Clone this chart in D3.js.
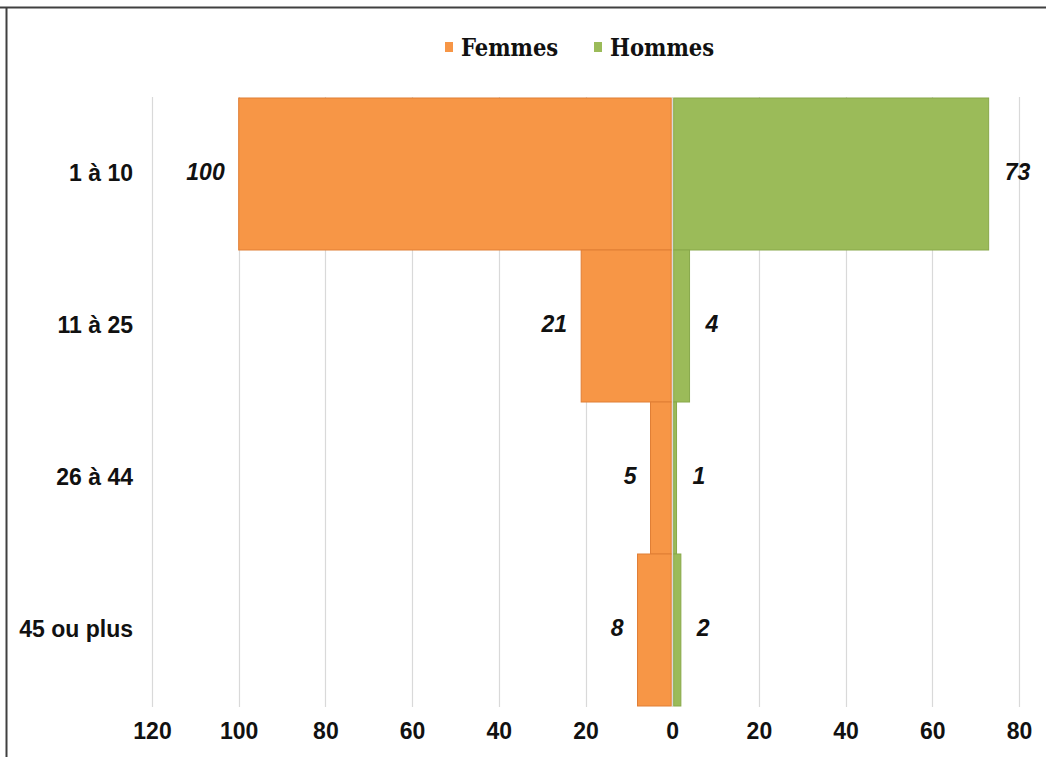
<!DOCTYPE html>
<html>
<head>
<meta charset="utf-8">
<script src="https://cdn.jsdelivr.net/npm/d3@7"></script>
<style>
  html, body { margin: 0; padding: 0; background: #fff; }
  svg { display: block; }
</style>
</head>
<body>
<svg id="chart" width="1046" height="757"></svg>
<script>
const categories = ["1 à 10", "11 à 25", "26 à 44", "45 ou plus"];
const femmes = [100, 21, 5, 8];
const hommes = [73, 4, 1, 2];
const tickValues = [-120, -100, -80, -60, -40, -20, 0, 20, 40, 60, 80];
const seriesNames = ["Femmes", "Hommes"];
const colors = { Femmes: "#F79646", Hommes: "#9BBB59" };

const svg = d3.select("#chart");
const W = 1046, H = 757;

// frame (top and left edges visible)
svg.append("line").attr("x1", 0).attr("x2", W).attr("y1", 7.5).attr("y2", 7.5)
  .attr("stroke", "#404040").attr("stroke-width", 2);
svg.append("line").attr("x1", 6.5).attr("x2", 6.5).attr("y1", 7).attr("y2", H)
  .attr("stroke", "#404040").attr("stroke-width", 2);

const x = d3.scaleLinear().domain([-120, 80]).range([152, 1019]);
const y = d3.scaleBand().domain(categories).range([98, 706]).padding(0);

// gridlines
svg.append("g").selectAll("line").data(tickValues).join("line")
  .attr("x1", d => Math.round(x(d)) + 0.5).attr("x2", d => Math.round(x(d)) + 0.5)
  .attr("y1", 97).attr("y2", 707)
  .attr("stroke", "#D9D9D9").attr("stroke-width", 1.2);

// bars
const fData = categories.map((c, i) => ({ c, v: femmes[i] }));
const hData = categories.map((c, i) => ({ c, v: hommes[i] }));

svg.append("g").selectAll("rect").data(fData).join("rect")
  .attr("x", d => x(-d.v)).attr("width", d => x(0) - 1 - x(-d.v))
  .attr("y", d => y(d.c)).attr("height", y.bandwidth())
  .attr("fill", colors.Femmes).attr("stroke", "#E07E35").attr("stroke-width", 1);

svg.append("g").selectAll("rect").data(hData).join("rect")
  .attr("x", x(0) + 1.5).attr("width", d => Math.max(0.5, x(d.v) - x(0) - 1.5))
  .attr("y", d => y(d.c)).attr("height", y.bandwidth())
  .attr("fill", colors.Hommes).attr("stroke", "#88A84A").attr("stroke-width", 1);

// value labels
const valFont = "'Liberation Sans', Arial, sans-serif";
svg.append("g").selectAll("text").data(fData).join("text")
  .attr("x", d => x(-d.v) - 14).attr("y", d => y(d.c) + y.bandwidth() / 2)
  .attr("text-anchor", "end").attr("dominant-baseline", "middle")
  .style("font-family", valFont).style("font-size", "23px")
  .style("font-weight", "bold").style("font-style", "italic").attr("fill", "#111")
  .text(d => d.v);

svg.append("g").selectAll("text").data(hData).join("text")
  .attr("x", d => x(d.v) + 16).attr("y", d => y(d.c) + y.bandwidth() / 2)
  .attr("text-anchor", "start").attr("dominant-baseline", "middle")
  .style("font-family", valFont).style("font-size", "23px")
  .style("font-weight", "bold").style("font-style", "italic").attr("fill", "#111")
  .text(d => d.v);

// category labels
const yAxis = d3.axisLeft(y).tickSize(0).tickPadding(0);
const gy = svg.append("g").attr("transform", "translate(133,0)").call(yAxis);
gy.select(".domain").remove();
gy.selectAll("text")
  .style("font-family", valFont).style("font-size", "23px")
  .style("font-weight", "bold").attr("fill", "#111");

// x axis labels
const xAxis = d3.axisBottom(x).tickValues(tickValues).tickSize(0).tickPadding(0)
  .tickFormat(d => Math.abs(d));
const gx = svg.append("g").attr("transform", "translate(0,723)").call(xAxis);
gx.select(".domain").remove();
gx.selectAll("text")
  .style("font-family", valFont).style("font-size", "23px")
  .style("font-weight", "bold").attr("fill", "#111");

// legend
const legend = svg.append("g");
const legendItems = [
  { name: seriesNames[0], mx: 445, tx: 461 },
  { name: seriesNames[1], mx: 594, tx: 610 }
];
legend.selectAll("rect").data(legendItems).join("rect")
  .attr("x", d => d.mx).attr("y", 42).attr("width", 8).attr("height", 10)
  .attr("fill", d => colors[d.name]);
legend.selectAll("text").data(legendItems).join("text")
  .attr("x", d => d.tx).attr("y", 56)
  .style("font-family", "'DejaVu Serif Condensed', 'DejaVu Serif', serif")
  .style("font-stretch", "condensed")
  .style("font-size", "23.5px").style("font-weight", "bold").attr("fill", "#111")
  .text(d => d.name);
</script>
</body>
</html>
